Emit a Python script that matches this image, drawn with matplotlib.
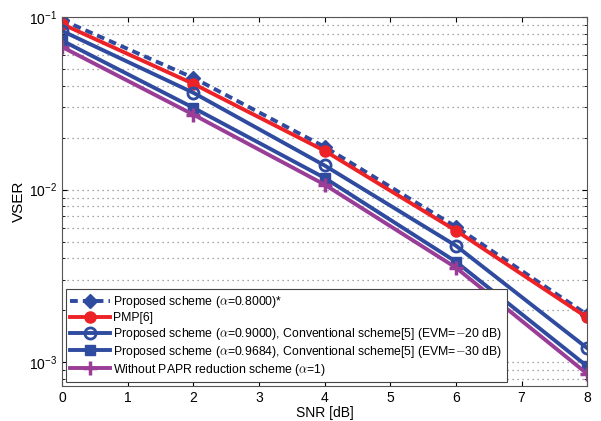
import matplotlib.pyplot as plt
import numpy as np

plt.rcParams['font.family'] = ['Liberation Sans', 'DejaVu Sans']
plt.rcParams['mathtext.fontset'] = 'cm'

snr = [0, 2, 4, 6, 8]
vser_a08 = [0.096, 0.0444, 0.0177, 0.0061, 0.00189]
vser_pmp = [0.091, 0.041, 0.0168, 0.0058, 0.00182]
vser_a09 = [0.083, 0.0364, 0.0138, 0.00474, 0.00121]
vser_a0968 = [0.073, 0.0298, 0.0117, 0.00383, 0.00095]
vser_noprr = [0.067, 0.0272, 0.0107, 0.00354, 0.00086]

labels = [
    r'Proposed scheme ($\alpha$=0.8000)*',
    'PMP[6]',
    r'Proposed scheme ($\alpha$=0.9000), Conventional scheme[5] (EVM=$-$20 dB)',
    r'Proposed scheme ($\alpha$=0.9684), Conventional scheme[5] (EVM=$-$30 dB)',
    r'Without PAPR reduction scheme ($\alpha$=1)',
]

blue = '#2f4b9f'
red = '#ec2227'
purple = '#9a3d97'

fig = plt.figure(figsize=(6.01, 4.21), dpi=100)
ax = fig.add_axes([0.103, 0.083, 0.874, 0.877])

ax.semilogy(snr, vser_a08, '--D', color=blue, lw=2.8, ms=7, dashes=(2, 1.3), label=labels[0])
ax.semilogy(snr, vser_pmp, '-o', color=red, lw=2.8, ms=8, label=labels[1])
ax.semilogy(snr, vser_a09, '-o', color=blue, lw=2.8, ms=8, mfc='none', mew=2, label=labels[2])
ax.semilogy(snr, vser_a0968, '-s', color=blue, lw=2.8, ms=7, label=labels[3])
ax.semilogy(snr, vser_noprr, '-+', color=purple, lw=2.8, ms=10, mew=2.5, label=labels[4])

ax.set_xlim(0, 8)
ax.set_ylim(7.3e-4, 1e-1)
ax.set_xticks(range(9))
ax.grid(True, which='major', axis='y', ls=(0, (1, 3)), color='#888888', lw=0.9)
ax.grid(True, which='minor', axis='y', ls=(0, (1, 3)), color='#888888', lw=0.9)
ax.tick_params(which='both', direction='in', labelsize=10, top=True, right=True)
for s in ax.spines.values():
    s.set_color('#555555')
ax.set_xlabel('SNR [dB]', fontsize=10, labelpad=1)
ax.set_ylabel('VSER', fontsize=11, labelpad=2)

leg = ax.legend(loc='lower left', fontsize=8.8, handlelength=3.2, borderaxespad=0.3,
                labelspacing=0.15, fancybox=False, framealpha=1, edgecolor='#444444',
                borderpad=0.4, handletextpad=0.3)
leg.get_frame().set_linewidth(0.8)

fig.savefig('out.png', dpi=100)
